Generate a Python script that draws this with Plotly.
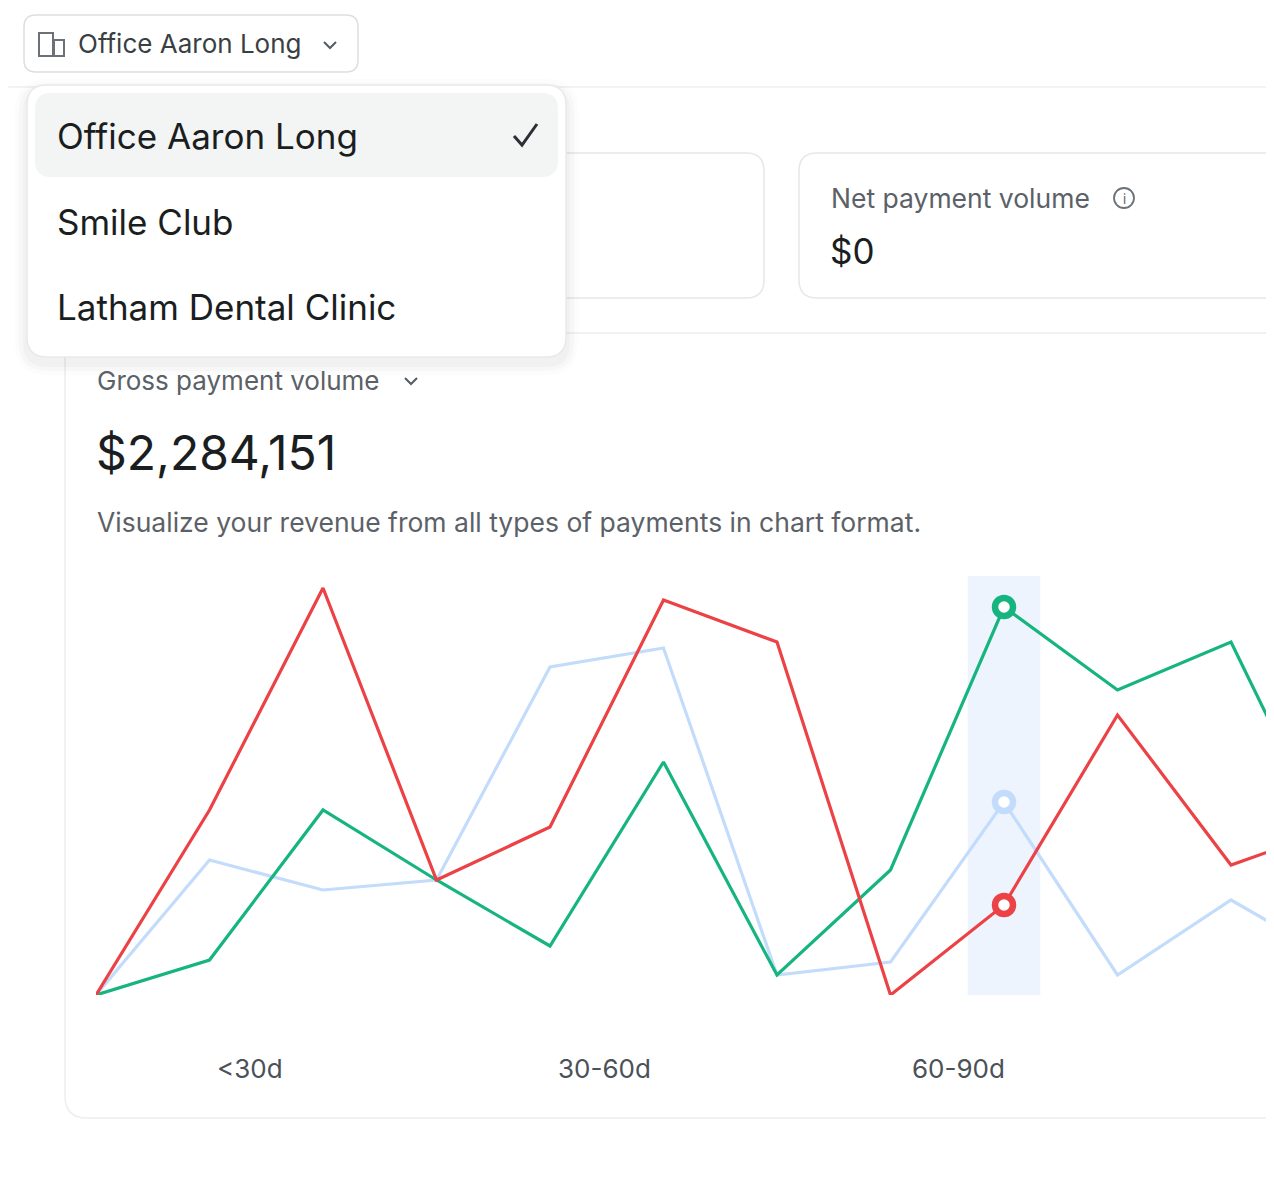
import plotly.graph_objects as go

OFF = 8  # page margin of the browser
W, H = 1274 + OFF, 1184

# data
periods = list(range(12))
red_vals = [0, 185, 407, 115, 168, 395, 353, 0, 90, 280, 130, 170]
green_vals = [0, 35, 185, 115, 49, 233, 20, 125, 388, 305, 353, 120]
blue_vals = [0, 135, 105, 115, 328, 347, 20, 33, 193, 20, 95, 30]
tick_pos = [1.36, 4.48, 7.60]
tick_text = ["<30d", "30-60d", "60-90d"]
offices = ["Office Aaron Long", "Smile Club", "Latham Dental Clinic"]
hover_idx = 8
STEP = 113.5

FONT = "Inter"


def py(y):
    return 1 - (y - OFF) / H


def px_(x):
    return (x - OFF) / W


def rrect(x0, y0, x1, y1, r):
    a0, b0, a1, b1 = px_(x0), py(y0), px_(x1), py(y1)
    rx, ry = r / W, r / H
    return (f"M{a0+rx},{b0} L{a1-rx},{b0} Q{a1},{b0} {a1},{b0-ry} "
            f"L{a1},{b1+ry} Q{a1},{b1} {a1-rx},{b1} L{a0+rx},{b1} "
            f"Q{a0},{b1} {a0},{b1+ry} L{a0},{b0-ry} Q{a0},{b0} {a0+rx},{b0} Z")


def chevron(cx, cy, s=6):
    return (f"M{px_(cx-s)},{py(cy-s/2)} L{px_(cx)},{py(cy+s/2)} "
            f"L{px_(cx+s)},{py(cy-s/2)}")


fig = go.Figure()

colors = {"blue": "#c3dcfb", "green": "#16b57f", "red": "#ec4145"}
for name, vals in [("blue", blue_vals), ("green", green_vals), ("red", red_vals)]:
    fig.add_trace(go.Scatter(x=periods, y=vals, mode="lines",
                             line=dict(color=colors[name], width=3.2),
                             hoverinfo="skip", showlegend=False))
for name, vals in [("blue", blue_vals), ("green", green_vals), ("red", red_vals)]:
    fig.add_trace(go.Scatter(x=[periods[hover_idx]], y=[vals[hover_idx]], mode="markers",
                             marker=dict(size=18, color="white",
                                         line=dict(color=colors[name], width=6.5)),
                             hoverinfo="skip", showlegend=False))

shapes = []
line_gray = "#e6e7e9"
shapes.append(dict(type="line", xref="paper", yref="paper", x0=0, x1=1, y0=py(87), y1=py(87),
                   line=dict(color="#eeeff0", width=1.5)))
shapes.append(dict(type="path", xref="paper", yref="paper", path=rrect(400, 153, 764, 298, 18),
                   line=dict(color=line_gray, width=1.5), fillcolor="white"))
shapes.append(dict(type="path", xref="paper", yref="paper", path=rrect(799, 153, 1310, 298, 18),
                   line=dict(color=line_gray, width=1.5), fillcolor="white"))
shapes.append(dict(type="path", xref="paper", yref="paper", path=rrect(65, 333, 1310, 1118, 22),
                   line=dict(color="#eceded", width=1.5), fillcolor="rgba(0,0,0,0)", layer="below"))
shapes.append(dict(type="rect", xref="x", yref="y", x0=hover_idx - 0.32, x1=hover_idx + 0.32,
                   y0=0, y1=419, fillcolor="#edf4fe", line=dict(width=0), layer="below"))
shapes.append(dict(type="path", xref="paper", yref="paper", path=rrect(24, 15, 358, 72, 12),
                   line=dict(color="#dcdee0", width=1.5), fillcolor="white"))
shapes.append(dict(type="path", xref="paper", yref="paper", path=chevron(330, 45, 6),
                   line=dict(color="#555b61", width=2)))
for (x0, y0, x1, y1) in [(39, 33, 53, 56), (54, 40, 64, 56)]:
    shapes.append(dict(type="rect", xref="paper", yref="paper", x0=px_(x0), x1=px_(x1),
                       y0=py(y1), y1=py(y0), line=dict(color="#6b7177", width=2),
                       fillcolor="white"))
for i, a in enumerate([0.012, 0.018, 0.025]):
    d = 12 - i * 4
    shapes.append(dict(type="path", xref="paper", yref="paper",
                       path=rrect(27 - d, 85 - d + 6, 566 + d, 357 + d + 6, 20 + d),
                       line=dict(width=0), fillcolor=f"rgba(0,0,0,{a})"))
shapes.append(dict(type="path", xref="paper", yref="paper", path=rrect(27, 85, 566, 357, 20),
                   line=dict(color="#e8e9ea", width=1.5), fillcolor="white"))
shapes.append(dict(type="path", xref="paper", yref="paper", path=rrect(35, 93, 558, 177, 16),
                   line=dict(width=0), fillcolor="#f3f4f4"))
shapes.append(dict(type="path", xref="paper", yref="paper",
                   path=f"M{px_(514)},{py(136)} L{px_(522)},{py(145)} L{px_(537)},{py(124)}",
                   line=dict(color="#2b2f33", width=3)))
shapes.append(dict(type="path", xref="paper", yref="paper", path=chevron(411, 381, 6),
                   line=dict(color="#555b61", width=2)))
shapes.append(dict(type="circle", xref="paper", yref="paper", x0=px_(1114), x1=px_(1134),
                   y0=py(208), y1=py(188), line=dict(color="#6b7177", width=1.8)))

ann = []


def txt(x, y, s, size, color, anchor="left"):
    ann.append(dict(x=px_(x), y=py(y), xref="paper", yref="paper", text=s, showarrow=False,
                    xanchor=anchor, yanchor="middle", font=dict(family=FONT, size=size, color=color)))


txt(76, 44, offices[0], 26, "#3a3f44")
for i, name in enumerate(offices):
    txt(55, 136 + i * 85.5, name, 35, "#1b1e21")
txt(829, 198, "Net payment volume", 26.5, "#5b6167")
txt(1124, 199, "i", 13, "#5b6167", "center")
txt(828, 251, "$0", 35, "#1b1e21")
txt(95, 380, "Gross payment volume", 26, "#5b6167")
txt(94, 453, "$2,284,151", 48, "#1b1e21")
txt(95, 522, "Visualize your revenue from all types of payments in chart format.", 26.5, "#5b6167")
for p, t in zip(tick_pos, tick_text):
    ann.append(dict(x=p, y=py(1068), xref="x", yref="paper", text=t, showarrow=False,
                    xanchor="center", yanchor="middle",
                    font=dict(family=FONT, size=26, color="#4b5157")))

fig.update_layout(
    width=W, height=H, margin=dict(l=0, r=0, t=0, b=0),
    paper_bgcolor="white", plot_bgcolor="rgba(0,0,0,0)",
    shapes=shapes, annotations=ann,
    xaxis=dict(domain=[px_(96), 1], range=[0, (W + OFF - 96) / STEP], visible=False, fixedrange=True),
    yaxis=dict(domain=[py(995), py(560)], range=[0, 435], visible=False, fixedrange=True),
)

fig.write_html("out.html", config={"displayModeBar": False})
